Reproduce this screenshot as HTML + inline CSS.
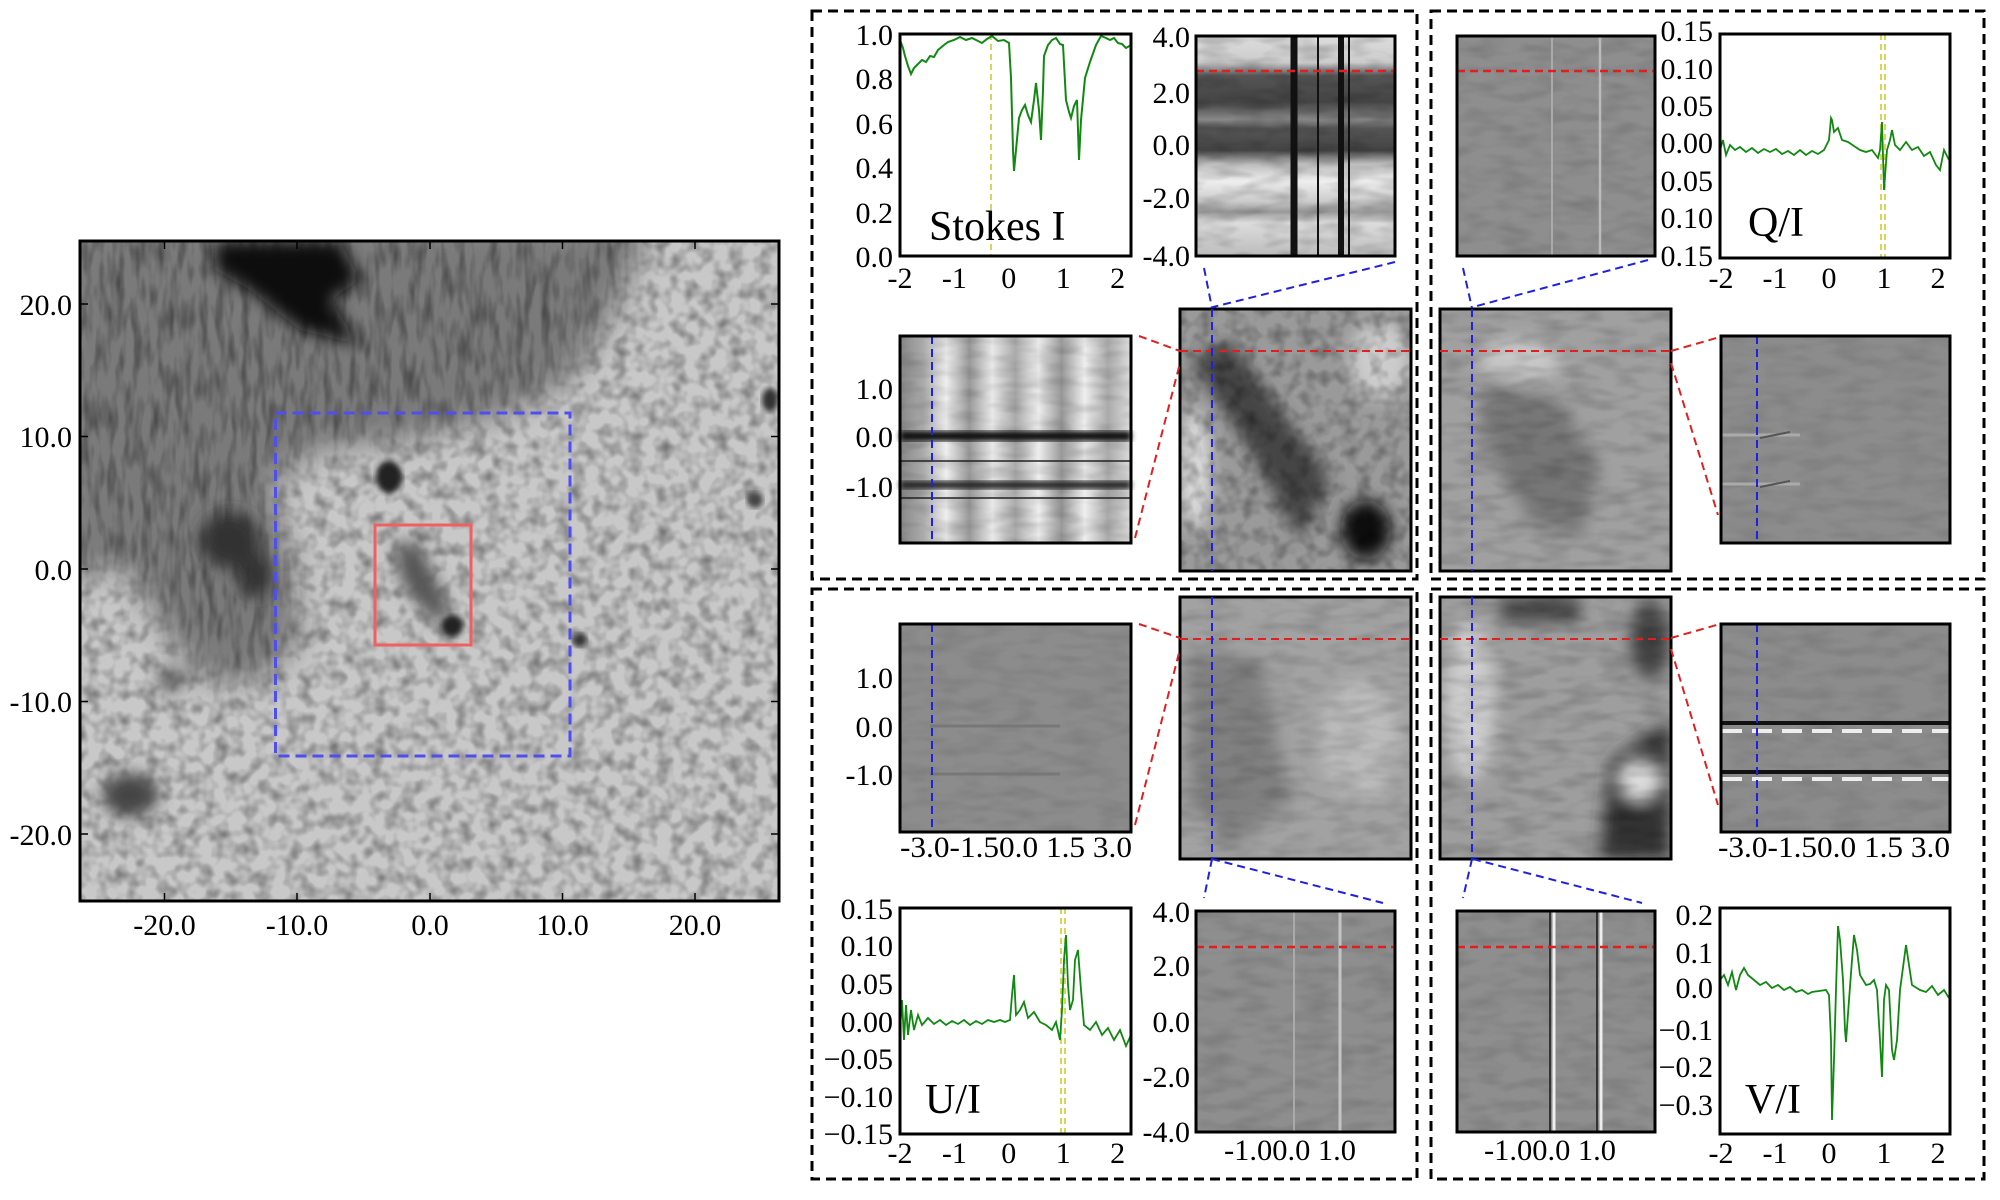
<!DOCTYPE html>
<html><head><meta charset="utf-8"><style>
html,body{margin:0;padding:0;background:#fff}
svg{display:block}
text{font-family:"Liberation Serif",serif;font-size:30px;fill:#000}
</style></head><body>
<svg width="2000" height="1200" viewBox="0 0 2000 1200" xmlns="http://www.w3.org/2000/svg">
<defs>
<filter id="gran" x="0" y="0" width="100%" height="100%">
<feTurbulence type="fractalNoise" baseFrequency="0.07" numOctaves="2" seed="3"/>
<feColorMatrix type="matrix" values="0 0 0 0 0  0 0 0 0 0  0 0 0 0 0  0 0 0 -0.8 0.48"/>
</filter>
<filter id="fine" x="0" y="0" width="100%" height="100%">
<feTurbulence type="fractalNoise" baseFrequency="0.03 0.09" numOctaves="2" seed="7"/>
<feColorMatrix type="matrix" values="0 0 0 0 0  0 0 0 0 0  0 0 0 0 0  0 0 0 -1 0.6"/>
</filter>
<filter id="fib" x="0" y="0" width="100%" height="100%">
<feTurbulence type="fractalNoise" baseFrequency="0.12 0.03" numOctaves="2" seed="11"/>
<feColorMatrix type="matrix" values="0 0 0 0 0  0 0 0 0 0  0 0 0 0 0  0 0 0 -1 0.6"/>
</filter>
<filter id="blur8"><feGaussianBlur stdDeviation="8"/></filter>
<filter id="blur15"><feGaussianBlur stdDeviation="15"/></filter>
<filter id="blur3"><feGaussianBlur stdDeviation="3"/></filter>
<clipPath id="cL"><rect x="80" y="241" width="699" height="660"/></clipPath>
<mask id="mPen" maskUnits="userSpaceOnUse" x="0" y="0" width="1000" height="1000">
<path d="M60 221 L650 221 L620 300 L570 380 L490 420 L400 440 L320 450 L270 480 L290 560 L300 640 L260 680 L200 680 L160 620 L120 560 L60 590 Z" fill="#fff" filter="url(#blur15)"/>
</mask>
<clipPath id="cM1"><rect x="1180" y="309" width="231" height="262"/></clipPath>
<clipPath id="cM2"><rect x="1440" y="309" width="231" height="262"/></clipPath>
<clipPath id="cM3"><rect x="1180" y="597" width="231" height="262"/></clipPath>
<clipPath id="cM4"><rect x="1440" y="597" width="231" height="262"/></clipPath>
<linearGradient id="gIspec" x1="0" y1="0" x2="0" y2="1">
<stop offset="0" stop-color="#ddd"/><stop offset="0.12" stop-color="#ccc"/>
<stop offset="0.18" stop-color="#555"/><stop offset="0.3" stop-color="#444"/>
<stop offset="0.38" stop-color="#888"/><stop offset="0.42" stop-color="#555"/>
<stop offset="0.52" stop-color="#444"/><stop offset="0.58" stop-color="#bbb"/>
<stop offset="0.66" stop-color="#eee"/><stop offset="0.75" stop-color="#ccc"/>
<stop offset="0.8" stop-color="#999"/><stop offset="0.85" stop-color="#ddd"/>
<stop offset="1" stop-color="#bbb"/></linearGradient>
<linearGradient id="gIspec2" x1="0" y1="0" x2="1" y2="0">
<stop offset="0" stop-color="#888"/><stop offset="0.1" stop-color="#aaa"/>
<stop offset="0.2" stop-color="#eee"/><stop offset="0.3" stop-color="#999"/>
<stop offset="0.4" stop-color="#e8e8e8"/><stop offset="0.5" stop-color="#aaa"/>
<stop offset="0.6" stop-color="#eee"/><stop offset="0.7" stop-color="#999"/>
<stop offset="0.8" stop-color="#eee"/><stop offset="0.9" stop-color="#aaa"/>
<stop offset="1" stop-color="#ddd"/></linearGradient>
</defs>

<!-- LEFT PANEL -->
<g clip-path="url(#cL)">
<rect x="80" y="241" width="699" height="660" fill="#c8c8c8"/>
<rect x="80" y="241" width="699" height="660" filter="url(#gran)"/>
<g mask="url(#mPen)">
<rect x="80" y="241" width="699" height="660" fill="#7a7a7a"/>
<rect x="80" y="241" width="699" height="660" filter="url(#fib)" opacity="0.8"/>
</g>
<g filter="url(#blur8)">
<path d="M215 241 L340 241 L360 280 L330 300 L360 345 L300 330 L250 290 L215 270 Z" fill="#0a0a0a"/>
<ellipse cx="230" cy="540" rx="30" ry="28" fill="#333"/>
<ellipse cx="255" cy="575" rx="18" ry="22" fill="#333"/>
<ellipse cx="130" cy="795" rx="28" ry="22" fill="#444"/>
<ellipse cx="170" cy="680" rx="12" ry="12" fill="#555"/>
<path d="M395 540 L420 545 L450 610 L435 625 L400 580 Z" fill="#555"/>
</g>
<ellipse cx="389" cy="477" rx="13" ry="16" fill="#222" filter="url(#blur3)"/>
<ellipse cx="452" cy="626" rx="11" ry="11" fill="#222" filter="url(#blur3)"/>
<ellipse cx="580" cy="640" rx="7" ry="7" fill="#333" filter="url(#blur3)"/>
<ellipse cx="770" cy="400" rx="8" ry="12" fill="#333" filter="url(#blur3)"/>
<ellipse cx="755" cy="500" rx="8" ry="8" fill="#444" filter="url(#blur3)"/>
</g>
<rect x="80" y="241" width="699" height="660" fill="none" stroke="#000" stroke-width="3"/>
<rect x="275.5" y="413" width="294.5" height="343" fill="none" stroke="#4f4ff0" stroke-width="3" stroke-dasharray="11,6"/>
<rect x="375" y="525" width="96" height="120" fill="none" stroke="#f06060" stroke-width="3"/>
<g stroke="#000" stroke-width="1.5">
<line x1="164.5" y1="901" x2="164.5" y2="893"/><line x1="297" y1="901" x2="297" y2="893"/><line x1="430" y1="901" x2="430" y2="893"/><line x1="562.5" y1="901" x2="562.5" y2="893"/><line x1="695" y1="901" x2="695" y2="893"/>
<line x1="164.5" y1="241" x2="164.5" y2="249"/><line x1="297" y1="241" x2="297" y2="249"/><line x1="430" y1="241" x2="430" y2="249"/><line x1="562.5" y1="241" x2="562.5" y2="249"/><line x1="695" y1="241" x2="695" y2="249"/>
<line x1="80" y1="304" x2="88" y2="304"/><line x1="80" y1="436.5" x2="88" y2="436.5"/><line x1="80" y1="569" x2="88" y2="569"/><line x1="80" y1="701.5" x2="88" y2="701.5"/><line x1="80" y1="834" x2="88" y2="834"/>
<line x1="779" y1="304" x2="771" y2="304"/><line x1="779" y1="436.5" x2="771" y2="436.5"/><line x1="779" y1="569" x2="771" y2="569"/><line x1="779" y1="701.5" x2="771" y2="701.5"/><line x1="779" y1="834" x2="771" y2="834"/>
</g>
<g text-anchor="end">
<text x="72" y="315">20.0</text><text x="72" y="447">10.0</text><text x="72" y="580">0.0</text><text x="72" y="712">-10.0</text><text x="72" y="845">-20.0</text>
</g>
<g text-anchor="middle">
<text x="164.5" y="935">-20.0</text><text x="297" y="935">-10.0</text><text x="430" y="935">0.0</text><text x="562.5" y="935">10.0</text><text x="695" y="935">20.0</text>
</g>

<!-- DASHED FRAMES -->
<g fill="none" stroke="#000" stroke-width="3" stroke-dasharray="10,6">
<rect x="812" y="11" width="605" height="568"/>
<rect x="1431" y="11" width="553" height="568"/>
<rect x="812" y="589" width="605" height="590"/>
<rect x="1431" y="589" width="553" height="590"/>
</g>

<!-- TOP-LEFT: Stokes I -->
<rect x="900" y="34" width="231" height="222" fill="#fff"/>
<line x1="991" y1="34" x2="991" y2="256" stroke="#c8c820" stroke-width="1.5" stroke-dasharray="6,4"/>
<polyline fill="none" stroke="#118811" stroke-width="2" points="900,40 903,48 905,56 908,66 911,74 914,68 918,64 922,60 926,62 930,56 934,57 938,50 944,45 948,42 954,40 960,37 966,40 972,38 978,41 982,43 987,39 992,36 998,41 1004,40 1009,43 1011,78 1013,150 1014,171 1016,150 1019,118 1022,110 1025,105 1028,115 1031,122 1034,100 1036,83 1039,110 1041,140 1043,90 1044,56 1048,45 1052,40 1056,38 1060,44 1063,45 1066,100 1069,112 1071,118 1074,106 1077,100 1079,160 1081,120 1085,78 1090,62 1096,45 1101,36 1106,38 1110,40 1114,38 1118,43 1122,44 1126,48 1131,45"/>
<rect x="900" y="34" width="231" height="222" fill="none" stroke="#000" stroke-width="3"/>
<g text-anchor="end">
<text x="893" y="45">1.0</text><text x="893" y="89">0.8</text><text x="893" y="134">0.6</text><text x="893" y="178">0.4</text><text x="893" y="223">0.2</text><text x="893" y="267">0.0</text>
</g>
<g text-anchor="middle">
<text x="900" y="288">-2</text><text x="954.4" y="288">-1</text><text x="1008.8" y="288">0</text><text x="1063.2" y="288">1</text><text x="1117.6" y="288">2</text>
</g>
<text x="929" y="240" style="font-size:42px">Stokes I</text>

<!-- Stokes I spectrum image -->
<rect x="1196" y="36" width="199" height="220" fill="url(#gIspec)"/>
<rect x="1196" y="36" width="199" height="220" filter="url(#fine)" opacity="0.4"/>
<g stroke="#111">
<line x1="1294" y1="36" x2="1294" y2="256" stroke-width="7"/>
<line x1="1318" y1="36" x2="1318" y2="256" stroke-width="2"/>
<line x1="1341" y1="36" x2="1341" y2="256" stroke-width="6"/>
<line x1="1349" y1="36" x2="1349" y2="256" stroke-width="2"/>
</g>
<line x1="1196" y1="71" x2="1395" y2="71" stroke="#e02020" stroke-width="2.5" stroke-dasharray="8,5"/>
<rect x="1196" y="36" width="199" height="220" fill="none" stroke="#000" stroke-width="3"/>
<g text-anchor="end">
<text x="1190" y="47">4.0</text><text x="1190" y="103">2.0</text><text x="1190" y="155">0.0</text><text x="1190" y="208">-2.0</text><text x="1190" y="266">-4.0</text>
</g>

<!-- Stokes I slit spectrum -->
<rect x="900" y="336" width="231" height="207" fill="url(#gIspec2)"/>
<rect x="900" y="336" width="231" height="207" filter="url(#fine)" opacity="0.3"/>
<rect x="900" y="431" width="231" height="10" fill="#111" filter="url(#blur3)"/>
<rect x="900" y="481" width="231" height="8" fill="#222" filter="url(#blur3)"/>
<line x1="900" y1="461" x2="1131" y2="461" stroke="#222" stroke-width="1.5"/>
<line x1="900" y1="498" x2="1131" y2="498" stroke="#222" stroke-width="1.5"/>
<line x1="932" y1="336" x2="932" y2="543" stroke="#2020e0" stroke-width="2" stroke-dasharray="8,5"/>
<rect x="900" y="336" width="231" height="207" fill="none" stroke="#000" stroke-width="3"/>
<g text-anchor="end"><text x="893" y="399">1.0</text><text x="893" y="447">0.0</text><text x="893" y="497">-1.0</text></g>

<!-- Middle image 1 (I) -->
<g clip-path="url(#cM1)">
<rect x="1180" y="309" width="231" height="262" fill="#9a9a9a"/>
<g filter="url(#blur8)">
<path d="M1190 360 L1230 340 L1330 480 L1300 540 L1250 450 Z" fill="#444"/>
<ellipse cx="1366" cy="530" rx="25" ry="30" fill="#111"/>
<ellipse cx="1380" cy="360" rx="30" ry="40" fill="#ccc"/>
<ellipse cx="1195" cy="470" rx="15" ry="60" fill="#ddd"/>
</g>
<rect x="1180" y="309" width="231" height="262" filter="url(#gran)" opacity="0.8"/>
</g>
<rect x="1180" y="309" width="231" height="262" fill="none" stroke="#000" stroke-width="3"/>
<line x1="1180" y1="351" x2="1411" y2="351" stroke="#e02020" stroke-width="2" stroke-dasharray="8,5"/>
<line x1="1212" y1="309" x2="1212" y2="571" stroke="#2020e0" stroke-width="2" stroke-dasharray="8,5"/>

<!-- TOP-RIGHT: Q -->
<rect x="1457" y="36" width="198" height="220" fill="#8e8e8e"/>
<rect x="1457" y="36" width="198" height="220" filter="url(#fine)" opacity="0.25"/>
<line x1="1552" y1="36" x2="1552" y2="256" stroke="#aaa" stroke-width="2"/>
<line x1="1600" y1="36" x2="1600" y2="256" stroke="#bbb" stroke-width="2.5"/>
<line x1="1457" y1="71" x2="1655" y2="71" stroke="#e02020" stroke-width="2.5" stroke-dasharray="8,5"/>
<rect x="1457" y="36" width="198" height="220" fill="none" stroke="#000" stroke-width="3"/>

<rect x="1720" y="34" width="230" height="224" fill="#fff"/>
<line x1="1881" y1="34" x2="1881" y2="258" stroke="#c8c820" stroke-width="1.5" stroke-dasharray="6,4"/>
<line x1="1885" y1="34" x2="1885" y2="258" stroke="#c8c820" stroke-width="1.5" stroke-dasharray="6,4"/>
<polyline fill="none" stroke="#118811" stroke-width="1.8" points="1720,150 1723,140 1726,155 1730,145 1735,150 1740,147 1746,152 1752,148 1758,153 1764,149 1770,152 1776,149 1782,154 1788,151 1794,155 1800,150 1806,155 1812,151 1818,154 1824,150 1829,140 1831,118 1832,120 1834,132 1838,128 1842,140 1848,142 1854,146 1860,150 1866,152 1872,150 1878,158 1880,150 1882,122 1884,190 1887,150 1890,140 1892,130 1895,145 1900,150 1906,142 1912,150 1918,147 1924,156 1930,152 1936,165 1940,170 1944,150 1949,160"/>
<rect x="1720" y="34" width="230" height="224" fill="none" stroke="#000" stroke-width="3"/>
<g text-anchor="end">
<text x="1713" y="41">0.15</text><text x="1713" y="79">0.10</text><text x="1713" y="116">0.05</text><text x="1713" y="153">0.00</text><text x="1713" y="191">0.05</text><text x="1713" y="228">0.10</text><text x="1713" y="266">0.15</text>
</g>
<g text-anchor="middle">
<text x="1721" y="288">-2</text><text x="1775" y="288">-1</text><text x="1829" y="288">0</text><text x="1884" y="288">1</text><text x="1938" y="288">2</text>
</g>
<text x="1748" y="236" style="font-size:42px">Q/I</text>

<!-- Middle image 2 (Q) -->
<g clip-path="url(#cM2)">
<rect x="1440" y="309" width="231" height="262" fill="#a0a0a0"/>
<g filter="url(#blur8)">
<path d="M1480 380 L1560 400 L1600 470 L1580 540 L1530 520 L1490 450 Z" fill="#777"/>
<ellipse cx="1520" cy="360" rx="40" ry="20" fill="#c8c8c8"/>
</g>
<rect x="1440" y="309" width="231" height="262" filter="url(#fine)" opacity="0.35"/>
</g>
<rect x="1440" y="309" width="231" height="262" fill="none" stroke="#000" stroke-width="3"/>
<line x1="1440" y1="351" x2="1671" y2="351" stroke="#e02020" stroke-width="2" stroke-dasharray="8,5"/>
<line x1="1472" y1="309" x2="1472" y2="571" stroke="#2020e0" stroke-width="2" stroke-dasharray="8,5"/>

<rect x="1721" y="336" width="229" height="207" fill="#8c8c8c"/>
<rect x="1721" y="336" width="229" height="207" filter="url(#fine)" opacity="0.2"/>
<path d="M1722 435 L1800 435 M1722 484 L1800 484" stroke="#aaa" stroke-width="3" fill="none"/>
<path d="M1760 438 L1790 432 M1760 487 L1790 481" stroke="#555" stroke-width="2" fill="none"/>
<line x1="1757" y1="336" x2="1757" y2="543" stroke="#2020e0" stroke-width="2" stroke-dasharray="8,5"/>
<rect x="1721" y="336" width="229" height="207" fill="none" stroke="#000" stroke-width="3"/>

<!-- Connectors top -->
<g fill="none" stroke-width="2" stroke-dasharray="8,5">
<path d="M1139 336 L1180 351 M1135 538 L1180 363 M1671 351 L1720 337 M1671 363 L1718 515" stroke="#e02020"/>
<path d="M1204 268 L1212 308 M1395 262 L1213 307 M1463 268 L1472 308 M1648 260 L1473 307" stroke="#2020e0"/>
</g>

<!-- BOTTOM-LEFT: U -->
<rect x="900" y="624" width="231" height="208" fill="#8c8c8c"/>
<rect x="900" y="624" width="231" height="208" filter="url(#fine)" opacity="0.2"/>
<path d="M930 726 L1060 726 M930 774 L1060 774" stroke="#777" stroke-width="3" fill="none"/>
<line x1="932" y1="624" x2="932" y2="832" stroke="#2020e0" stroke-width="2" stroke-dasharray="8,5"/>
<rect x="900" y="624" width="231" height="208" fill="none" stroke="#000" stroke-width="3"/>
<g text-anchor="end"><text x="893" y="688">1.0</text><text x="893" y="737">0.0</text><text x="893" y="785">-1.0</text></g>
<text x="900" y="857" textLength="232" lengthAdjust="spacingAndGlyphs">-3.0-1.50.0 1.5 3.0</text>

<g clip-path="url(#cM3)">
<rect x="1180" y="597" width="231" height="262" fill="#a2a2a2"/>
<g filter="url(#blur8)">
<ellipse cx="1230" cy="700" rx="20" ry="40" fill="#333"/>
<path d="M1190 650 L1260 660 L1290 800 L1230 850 L1190 800 Z" fill="#808080"/>
<ellipse cx="1360" cy="740" rx="40" ry="60" fill="#bbb"/>
</g>
<rect x="1180" y="597" width="231" height="262" filter="url(#fine)" opacity="0.3"/>
</g>
<rect x="1180" y="597" width="231" height="262" fill="none" stroke="#000" stroke-width="3"/>
<line x1="1180" y1="639" x2="1411" y2="639" stroke="#e02020" stroke-width="2" stroke-dasharray="8,5"/>
<line x1="1212" y1="597" x2="1212" y2="859" stroke="#2020e0" stroke-width="2" stroke-dasharray="8,5"/>

<rect x="900" y="908" width="231" height="226" fill="#fff"/>
<line x1="1061" y1="908" x2="1061" y2="1134" stroke="#c8c820" stroke-width="1.5" stroke-dasharray="6,4"/>
<line x1="1065" y1="908" x2="1065" y2="1134" stroke="#c8c820" stroke-width="1.5" stroke-dasharray="6,4"/>
<polyline fill="none" stroke="#118811" stroke-width="1.8" points="900,1030 902,1000 904,1040 906,1005 908,1035 911,1010 914,1030 918,1015 922,1025 928,1018 934,1024 940,1020 946,1025 952,1021 958,1024 964,1020 970,1025 976,1021 982,1024 988,1020 994,1022 1000,1020 1005,1022 1010,1020 1012,995 1014,975 1016,1015 1020,1010 1024,1002 1028,1018 1034,1012 1040,1022 1046,1025 1052,1030 1056,1022 1060,1040 1062,1010 1064,960 1066,935 1068,985 1070,1010 1073,1000 1075,960 1078,950 1081,990 1084,1025 1090,1030 1096,1022 1102,1035 1108,1028 1114,1040 1120,1030 1126,1046 1131,1035"/>
<rect x="900" y="908" width="231" height="226" fill="none" stroke="#000" stroke-width="3"/>
<g text-anchor="end">
<text x="893" y="919">0.15</text><text x="893" y="956">0.10</text><text x="893" y="994">0.05</text><text x="893" y="1032">0.00</text><text x="893" y="1069">−0.05</text><text x="893" y="1107">−0.10</text><text x="893" y="1144">−0.15</text>
</g>
<g text-anchor="middle">
<text x="900" y="1163">-2</text><text x="954.4" y="1163">-1</text><text x="1008.8" y="1163">0</text><text x="1063.2" y="1163">1</text><text x="1117.6" y="1163">2</text>
</g>
<text x="925" y="1113" style="font-size:42px">U/I</text>

<rect x="1196" y="911" width="199" height="221" fill="#8e8e8e"/>
<rect x="1196" y="911" width="199" height="221" filter="url(#fine)" opacity="0.25"/>
<line x1="1294" y1="911" x2="1294" y2="1132" stroke="#aaa" stroke-width="2"/>
<line x1="1340" y1="911" x2="1340" y2="1132" stroke="#c4c4c4" stroke-width="3"/>
<line x1="1196" y1="947" x2="1395" y2="947" stroke="#e02020" stroke-width="2.5" stroke-dasharray="8,5"/>
<rect x="1196" y="911" width="199" height="221" fill="none" stroke="#000" stroke-width="3"/>
<g text-anchor="end">
<text x="1190" y="922">4.0</text><text x="1190" y="976">2.0</text><text x="1190" y="1032">0.0</text><text x="1190" y="1087">-2.0</text><text x="1190" y="1142">-4.0</text>
</g>
<text x="1224" y="1160" textLength="132" lengthAdjust="spacingAndGlyphs">-1.00.0 1.0</text>

<!-- BOTTOM-RIGHT: V -->
<g clip-path="url(#cM4)">
<rect x="1440" y="597" width="231" height="262" fill="#9e9e9e"/>
<g filter="url(#blur8)">
<ellipse cx="1470" cy="700" rx="25" ry="80" fill="#ccc"/>
<path d="M1610 760 L1670 720 L1670 859 L1600 859 Z" fill="#333"/>
<rect x="1500" y="597" width="80" height="25" fill="#444"/>
<ellipse cx="1650" cy="640" rx="20" ry="40" fill="#444"/>
<ellipse cx="1640" cy="780" rx="20" ry="20" fill="#ddd"/>
</g>
<rect x="1440" y="597" width="231" height="262" filter="url(#fine)" opacity="0.35"/>
</g>
<rect x="1440" y="597" width="231" height="262" fill="none" stroke="#000" stroke-width="3"/>
<line x1="1440" y1="639" x2="1671" y2="639" stroke="#e02020" stroke-width="2" stroke-dasharray="8,5"/>
<line x1="1472" y1="597" x2="1472" y2="859" stroke="#2020e0" stroke-width="2" stroke-dasharray="8,5"/>

<rect x="1721" y="624" width="229" height="208" fill="#8c8c8c"/>
<rect x="1721" y="624" width="229" height="208" filter="url(#fine)" opacity="0.2"/>
<path d="M1722 723 L1950 723 M1722 772 L1950 772" stroke="#111" stroke-width="4" fill="none"/>
<path d="M1722 731 L1950 731 M1722 779 L1950 779" stroke="#eee" stroke-width="4" fill="none" stroke-dasharray="20,10"/>
<line x1="1757" y1="624" x2="1757" y2="832" stroke="#2020e0" stroke-width="2" stroke-dasharray="8,5"/>
<rect x="1721" y="624" width="229" height="208" fill="none" stroke="#000" stroke-width="3"/>
<text x="1718" y="857" textLength="232" lengthAdjust="spacingAndGlyphs">-3.0-1.50.0 1.5 3.0</text>

<rect x="1457" y="911" width="198" height="221" fill="#8e8e8e"/>
<rect x="1457" y="911" width="198" height="221" filter="url(#fine)" opacity="0.25"/>
<line x1="1554" y1="911" x2="1554" y2="1132" stroke="#eee" stroke-width="3"/>
<line x1="1550" y1="911" x2="1550" y2="1132" stroke="#333" stroke-width="2"/>
<line x1="1601" y1="911" x2="1601" y2="1132" stroke="#eee" stroke-width="3"/>
<line x1="1597" y1="911" x2="1597" y2="1132" stroke="#333" stroke-width="2"/>
<line x1="1457" y1="947" x2="1655" y2="947" stroke="#e02020" stroke-width="2.5" stroke-dasharray="8,5"/>
<rect x="1457" y="911" width="198" height="221" fill="none" stroke="#000" stroke-width="3"/>
<text x="1484" y="1160" textLength="132" lengthAdjust="spacingAndGlyphs">-1.00.0 1.0</text>

<rect x="1720" y="908" width="230" height="226" fill="#fff"/>
<polyline fill="none" stroke="#118811" stroke-width="1.8" points="1720,980 1724,975 1728,985 1732,972 1736,990 1740,975 1744,968 1748,975 1754,980 1760,985 1766,982 1772,988 1778,985 1784,990 1790,987 1796,992 1802,990 1808,994 1812,992 1826,990 1829,995 1831,1040 1832,1120 1834,1060 1836,990 1838,926 1840,940 1843,980 1845,1030 1846,1042 1849,1000 1852,960 1854,935 1857,950 1860,975 1866,985 1870,984 1874,980 1877,990 1880,1040 1882,1077 1884,1000 1886,985 1889,990 1892,1050 1894,1060 1897,1040 1900,990 1904,960 1906,945 1909,965 1912,985 1920,990 1926,992 1932,986 1938,995 1944,990 1949,998"/>
<rect x="1720" y="908" width="230" height="226" fill="none" stroke="#000" stroke-width="3"/>
<g text-anchor="end">
<text x="1713" y="925">0.2</text><text x="1713" y="963">0.1</text><text x="1713" y="998">0.0</text><text x="1713" y="1040">−0.1</text><text x="1713" y="1077">−0.2</text><text x="1713" y="1115">−0.3</text>
</g>
<g text-anchor="middle">
<text x="1721" y="1163">-2</text><text x="1775" y="1163">-1</text><text x="1829" y="1163">0</text><text x="1884" y="1163">1</text><text x="1938" y="1163">2</text>
</g>
<text x="1745" y="1113" style="font-size:42px">V/I</text>

<!-- Connectors bottom -->
<g fill="none" stroke-width="2" stroke-dasharray="8,5">
<path d="M1139 624 L1180 638 M1135 825 L1180 649 M1671 638 L1720 624 M1671 649 L1718 805" stroke="#e02020"/>
<path d="M1212 859 L1204 898 M1212 859 L1383 903 M1472 859 L1463 898 M1473 859 L1642 903" stroke="#2020e0"/>
</g>
</svg>
</body></html>
